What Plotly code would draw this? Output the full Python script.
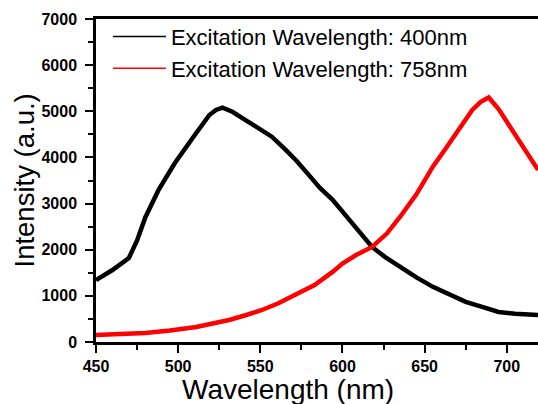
import plotly.graph_objects as go

# Black curve: excitation 400 nm
black_wl = [450, 460, 470, 475, 480, 488, 498, 505, 511, 519, 523, 527, 533, 541, 550, 557,
            565, 572, 580, 586, 594, 605, 618, 626, 635, 645, 655, 665, 675, 685, 695, 705, 719]
black_int = [1340, 1560, 1820, 2200, 2700, 3290, 3880, 4250, 4530, 4920, 5030, 5080, 4990, 4810, 4620, 4450,
             4180, 3930, 3600, 3350, 3080, 2600, 2060, 1840, 1630, 1400, 1195, 1020, 870, 760, 650, 610, 585]

# Red curve: excitation 758 nm
red_wl = [450, 465, 480, 495, 511, 521, 531, 541, 551, 561, 571, 583, 594, 600, 608, 618,
          627, 635, 645, 655, 662, 669, 679, 684, 689, 695, 703, 710, 719]
red_int = [150, 165, 195, 250, 325, 400, 477, 580, 694, 840, 1020, 1235, 1520, 1700, 1880, 2060,
           2350, 2710, 3200, 3800, 4150, 4530, 5030, 5200, 5300, 5050, 4600, 4250, 3730]

series_names = ["Excitation Wavelength: 400nm", "Excitation Wavelength: 758nm"]
series_colors = ["black", "#ff0000"]
x_title = "Wavelength (nm)"
y_title = "Intensity (a.u.)"

FONT = "Arial, Liberation Sans, sans-serif"

fig = go.Figure()
for wl, inten, name, col in [(black_wl, black_int, series_names[0], series_colors[0]),
                             (red_wl, red_int, series_names[1], series_colors[1])]:
    fig.add_trace(go.Scatter(x=wl, y=inten, mode="lines", name=name, showlegend=False,
                             line=dict(color=col, width=4.5)))
# legend entries with thin sample lines
for name, col in zip(series_names, series_colors):
    fig.add_trace(go.Scatter(x=[None], y=[None], mode="lines", name=name,
                             line=dict(color=col, width=1.5)))

axis_common = dict(
    showgrid=False, zeroline=False, showline=True, linecolor="black", linewidth=2.5,
    ticks="outside", ticklen=8, tickwidth=2, tickcolor="black",
    tickfont=dict(family=FONT, size=16, color="black", weight="bold"),
)

fig.update_xaxes(range=[450, 719], dtick=50, tick0=450, mirror=True, ticklabelstandoff=0,
                 minor=dict(dtick=25, ticks="outside", ticklen=5, tickwidth=2, tickcolor="black"),
                 **axis_common)
fig.update_yaxes(range=[0, 7000], dtick=1000, mirror=False, ticklabelstandoff=5,
                 minor=dict(dtick=500, ticks="outside", ticklen=5, tickwidth=2, tickcolor="black"),
                 **axis_common)

fig.add_annotation(text=x_title, xref="paper", yref="paper", x=0.434, y=0,
                   xanchor="center", yanchor="middle", yshift=-47, showarrow=False,
                   font=dict(family=FONT, size=28, color="black"))
fig.add_annotation(text=y_title, xref="paper", yref="paper", x=0, y=0.5,
                   xanchor="center", yanchor="middle", xshift=-72, textangle=-90, showarrow=False,
                   font=dict(family=FONT, size=27.5, color="black"))

fig.update_layout(
    width=538, height=404,
    margin=dict(l=96, r=0, t=19, b=62),
    paper_bgcolor="white", plot_bgcolor="white",
    showlegend=True,
    legend=dict(x=0.027, y=1.01, xanchor="left", yanchor="top", bgcolor="rgba(0,0,0,0)",
                itemwidth=53, tracegroupgap=0,
                font=dict(family=FONT, size=22, color="black"), borderwidth=0),
)

fig.write_html("out.html", config={"displayModeBar": False},
               post_script="document.body.style.margin='0';")
